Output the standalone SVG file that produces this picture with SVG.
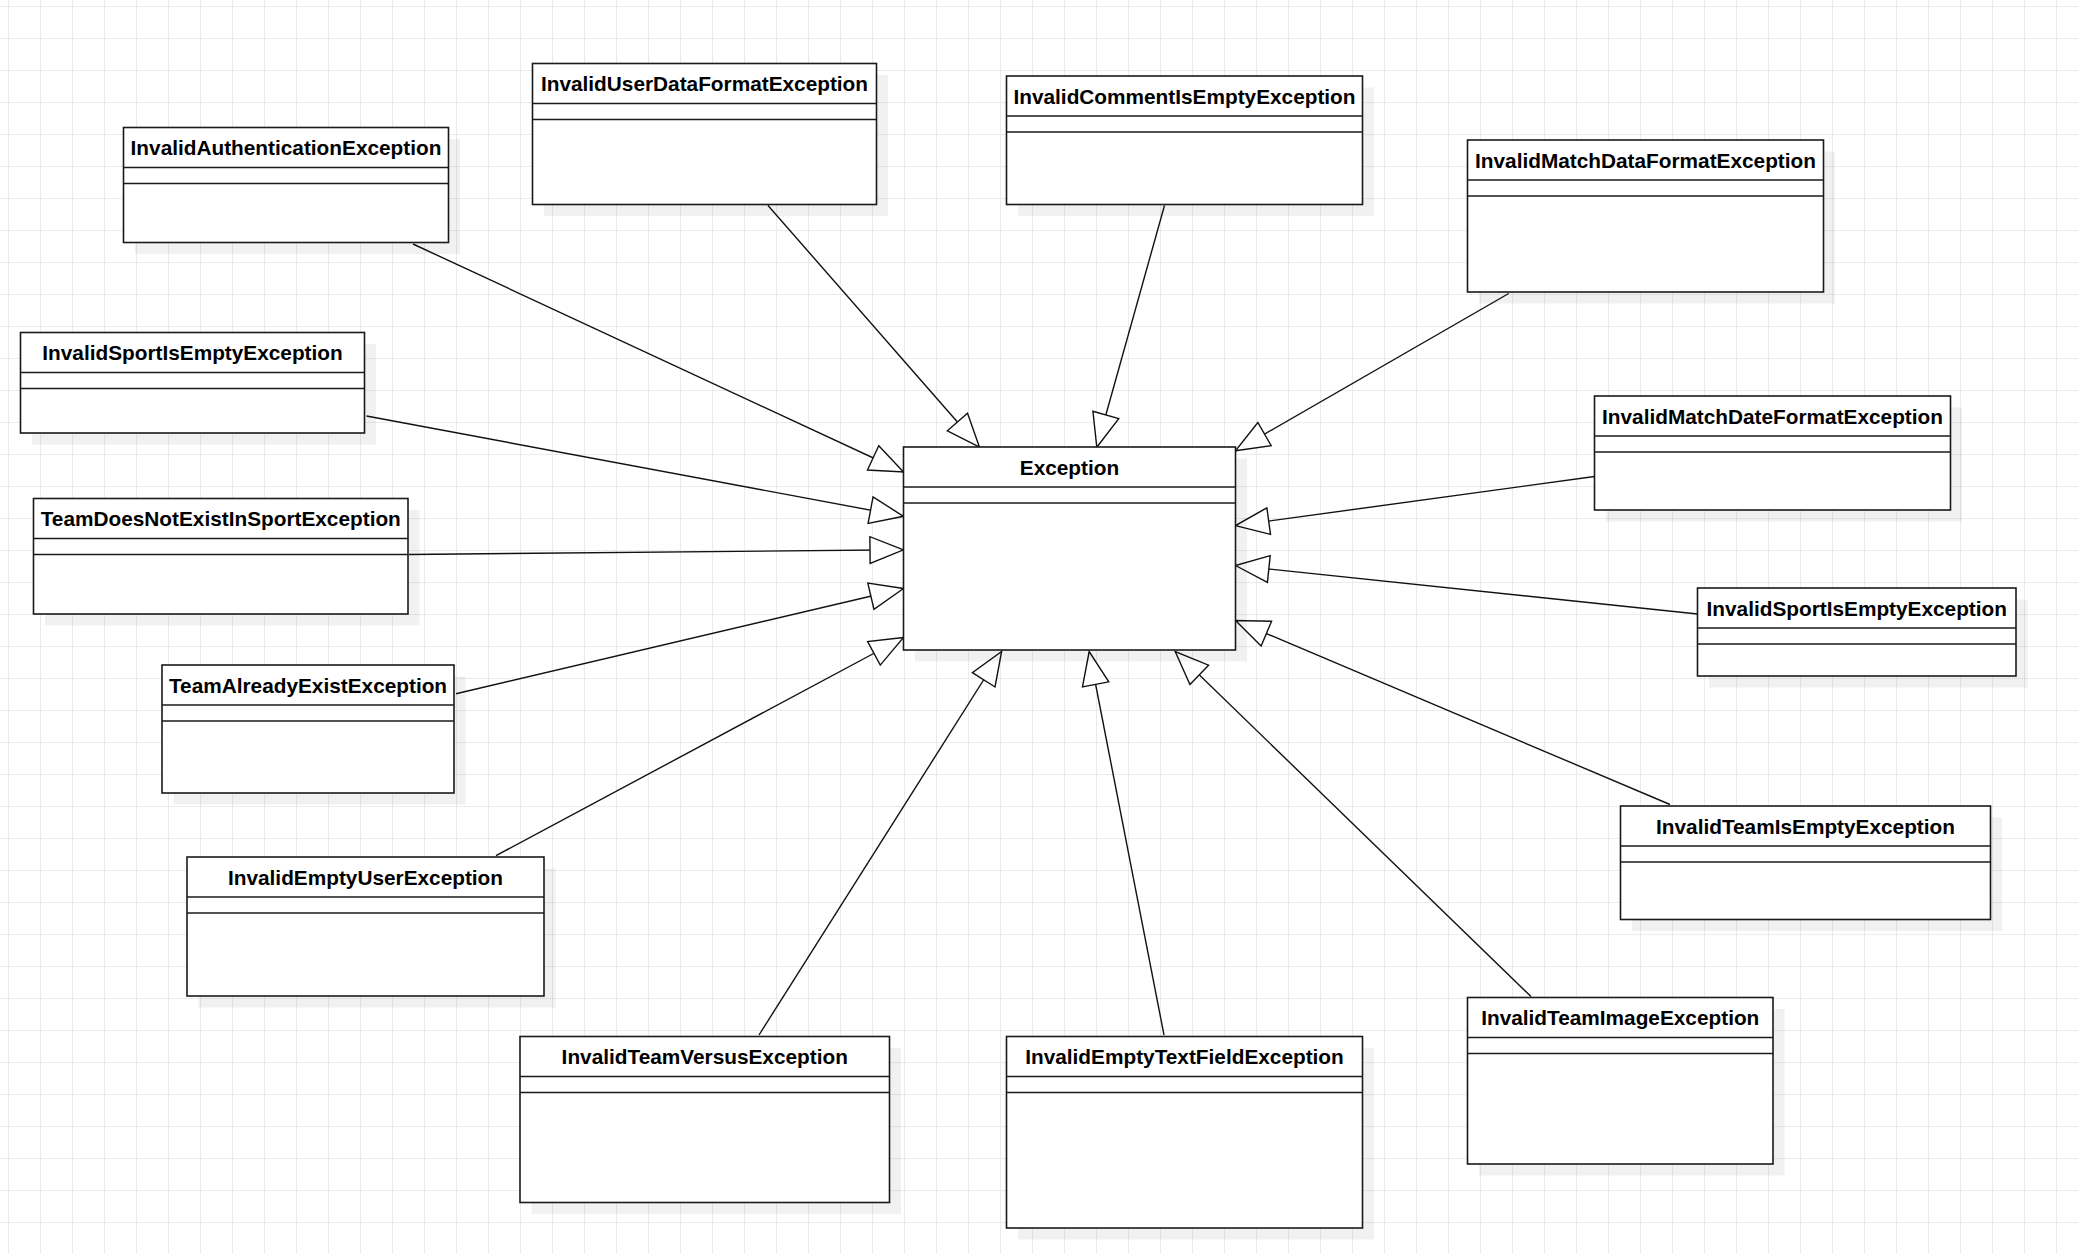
<svg xmlns="http://www.w3.org/2000/svg" width="2078" height="1254" viewBox="0 0 2078 1254">
<defs>
<pattern id="grid" x="8" y="6" width="32" height="32" patternUnits="userSpaceOnUse">
<rect x="0" y="0" width="1" height="32" fill="#ebebeb"/>
<rect x="0" y="0" width="32" height="1" fill="#ebebeb"/>
</pattern>
<marker id="gen" markerUnits="userSpaceOnUse" viewBox="-36 -16 38 32" markerWidth="38" markerHeight="32" refX="0" refY="0" orient="auto">
<path d="M0,0 L-33.5,-13.4 L-33.5,13.4 Z" fill="#fff" stroke="#111" stroke-width="1.4" stroke-linejoin="miter"/>
</marker>
</defs>
<style>
.sh{fill:#000;fill-opacity:0.055}
.bx{fill:#fff;stroke:#1a1a1a;stroke-width:1.6}
.sep{stroke:#1a1a1a;stroke-width:1.6}
.t{font-family:"Liberation Sans",Arial,sans-serif;font-weight:bold;font-size:20.8px;fill:#000;text-anchor:middle}
.c{fill:none;stroke:#111;stroke-width:1.4;marker-end:url(#gen)}
</style>
<rect width="2078" height="1254" fill="#fff"/>
<rect width="2078" height="1254" fill="url(#grid)"/>

<g id="InvalidAuthenticationException">
<rect class="sh" x="135" y="139" width="325" height="115"/>
<rect class="bx" x="123.5" y="127.5" width="325" height="115"/>
<line class="sep" x1="123.5" y1="167.5" x2="448.5" y2="167.5"/>
<line class="sep" x1="123.5" y1="183.5" x2="448.5" y2="183.5"/>
<text class="t" x="286" y="155">InvalidAuthenticationException</text>
</g>

<g id="InvalidUserDataFormatException">
<rect class="sh" x="544" y="75" width="344" height="141"/>
<rect class="bx" x="532.5" y="63.5" width="344" height="141"/>
<line class="sep" x1="532.5" y1="103.5" x2="876.5" y2="103.5"/>
<line class="sep" x1="532.5" y1="119.5" x2="876.5" y2="119.5"/>
<text class="t" x="704.5" y="91">InvalidUserDataFormatException</text>
</g>

<g id="InvalidCommentIsEmptyException">
<rect class="sh" x="1018" y="87.5" width="356" height="128.5"/>
<rect class="bx" x="1006.5" y="76" width="356" height="128.5"/>
<line class="sep" x1="1006.5" y1="116" x2="1362.5" y2="116"/>
<line class="sep" x1="1006.5" y1="132" x2="1362.5" y2="132"/>
<text class="t" x="1184.5" y="103.5">InvalidCommentIsEmptyException</text>
</g>

<g id="InvalidMatchDataFormatException">
<rect class="sh" x="1479" y="151.5" width="356" height="152"/>
<rect class="bx" x="1467.5" y="140" width="356" height="152"/>
<line class="sep" x1="1467.5" y1="180" x2="1823.5" y2="180"/>
<line class="sep" x1="1467.5" y1="196" x2="1823.5" y2="196"/>
<text class="t" x="1645.5" y="167.5">InvalidMatchDataFormatException</text>
</g>

<g id="InvalidSportIsEmptyException_left">
<rect class="sh" x="32" y="344" width="344" height="100.5"/>
<rect class="bx" x="20.5" y="332.5" width="344" height="100.5"/>
<line class="sep" x1="20.5" y1="372.5" x2="364.5" y2="372.5"/>
<line class="sep" x1="20.5" y1="388.5" x2="364.5" y2="388.5"/>
<text class="t" x="192.5" y="360">InvalidSportIsEmptyException</text>
</g>

<g id="TeamDoesNotExistInSportException">
<rect class="sh" x="45" y="510" width="374.5" height="115.5"/>
<rect class="bx" x="33.5" y="498.5" width="374.5" height="115.5"/>
<line class="sep" x1="33.5" y1="538.5" x2="408" y2="538.5"/>
<line class="sep" x1="33.5" y1="554.5" x2="408" y2="554.5"/>
<text class="t" x="220.75" y="526">TeamDoesNotExistInSportException</text>
</g>

<g id="TeamAlreadyExistException">
<rect class="sh" x="173.5" y="676.5" width="292" height="128"/>
<rect class="bx" x="162" y="665" width="292" height="128"/>
<line class="sep" x1="162" y1="705" x2="454" y2="705"/>
<line class="sep" x1="162" y1="721" x2="454" y2="721"/>
<text class="t" x="308" y="692.5">TeamAlreadyExistException</text>
</g>

<g id="InvalidEmptyUserException">
<rect class="sh" x="198.5" y="868.5" width="357" height="139"/>
<rect class="bx" x="187" y="857" width="357" height="139"/>
<line class="sep" x1="187" y1="897" x2="544" y2="897"/>
<line class="sep" x1="187" y1="913" x2="544" y2="913"/>
<text class="t" x="365.5" y="884.5">InvalidEmptyUserException</text>
</g>

<g id="InvalidTeamVersusException">
<rect class="sh" x="531.5" y="1048" width="369.5" height="166"/>
<rect class="bx" x="520" y="1036.5" width="369.5" height="166"/>
<line class="sep" x1="520" y1="1076.5" x2="889.5" y2="1076.5"/>
<line class="sep" x1="520" y1="1092.5" x2="889.5" y2="1092.5"/>
<text class="t" x="704.75" y="1064">InvalidTeamVersusException</text>
</g>

<g id="InvalidEmptyTextFieldException">
<rect class="sh" x="1018" y="1048" width="356" height="191.5"/>
<rect class="bx" x="1006.5" y="1036.5" width="356" height="191.5"/>
<line class="sep" x1="1006.5" y1="1076.5" x2="1362.5" y2="1076.5"/>
<line class="sep" x1="1006.5" y1="1092.5" x2="1362.5" y2="1092.5"/>
<text class="t" x="1184.5" y="1064">InvalidEmptyTextFieldException</text>
</g>

<g id="InvalidTeamImageException">
<rect class="sh" x="1479" y="1009" width="305.5" height="166.5"/>
<rect class="bx" x="1467.5" y="997.5" width="305.5" height="166.5"/>
<line class="sep" x1="1467.5" y1="1037.5" x2="1773" y2="1037.5"/>
<line class="sep" x1="1467.5" y1="1053.5" x2="1773" y2="1053.5"/>
<text class="t" x="1620.25" y="1025">InvalidTeamImageException</text>
</g>

<g id="InvalidTeamIsEmptyException">
<rect class="sh" x="1632" y="817.5" width="370" height="113.5"/>
<rect class="bx" x="1620.5" y="806" width="370" height="113.5"/>
<line class="sep" x1="1620.5" y1="846" x2="1990.5" y2="846"/>
<line class="sep" x1="1620.5" y1="862" x2="1990.5" y2="862"/>
<text class="t" x="1805.5" y="833.5">InvalidTeamIsEmptyException</text>
</g>

<g id="InvalidSportIsEmptyException_right">
<rect class="sh" x="1709" y="599.5" width="318.5" height="88"/>
<rect class="bx" x="1697.5" y="588" width="318.5" height="88"/>
<line class="sep" x1="1697.5" y1="628" x2="2016" y2="628"/>
<line class="sep" x1="1697.5" y1="644" x2="2016" y2="644"/>
<text class="t" x="1856.75" y="615.5">InvalidSportIsEmptyException</text>
</g>

<g id="InvalidMatchDateFormatException">
<rect class="sh" x="1606" y="407.5" width="356" height="114"/>
<rect class="bx" x="1594.5" y="396" width="356" height="114"/>
<line class="sep" x1="1594.5" y1="436" x2="1950.5" y2="436"/>
<line class="sep" x1="1594.5" y1="452" x2="1950.5" y2="452"/>
<text class="t" x="1772.5" y="423.5">InvalidMatchDateFormatException</text>
</g>

<g id="connectors">
<path class="c" d="M413,244 L903.5,472"/>
<path class="c" d="M768,205.5 L979.5,447.2"/>
<path class="c" d="M366.5,416 L903.5,516.3"/>
<path class="c" d="M409,554.5 L903.5,549.8"/>
<path class="c" d="M456,693.7 L903.5,588.5"/>
<path class="c" d="M496,855.6 L903.5,637.5"/>
<path class="c" d="M759,1035 L1001.6,651.5"/>
<path class="c" d="M1164,1035 L1089.2,651.5"/>
<path class="c" d="M1531,996.5 L1175.2,651.5"/>
<path class="c" d="M1670,804.5 L1235.5,620.5"/>
<path class="c" d="M1697.5,614 L1235.5,565.5"/>
<path class="c" d="M1594.5,476.5 L1235.5,525.6"/>
<path class="c" d="M1508.7,293.5 L1235.5,450.8"/>
<path class="c" d="M1164.5,205.5 L1096.8,447.2"/>
</g>

<g id="Exception">
<rect class="sh" x="915" y="458.5" width="332" height="203"/>
<rect class="bx" x="903.5" y="447" width="332" height="203"/>
<line class="sep" x1="903.5" y1="487" x2="1235.5" y2="487"/>
<line class="sep" x1="903.5" y1="503" x2="1235.5" y2="503"/>
<text class="t" x="1069.5" y="474.5">Exception</text>
</g>
</svg>
